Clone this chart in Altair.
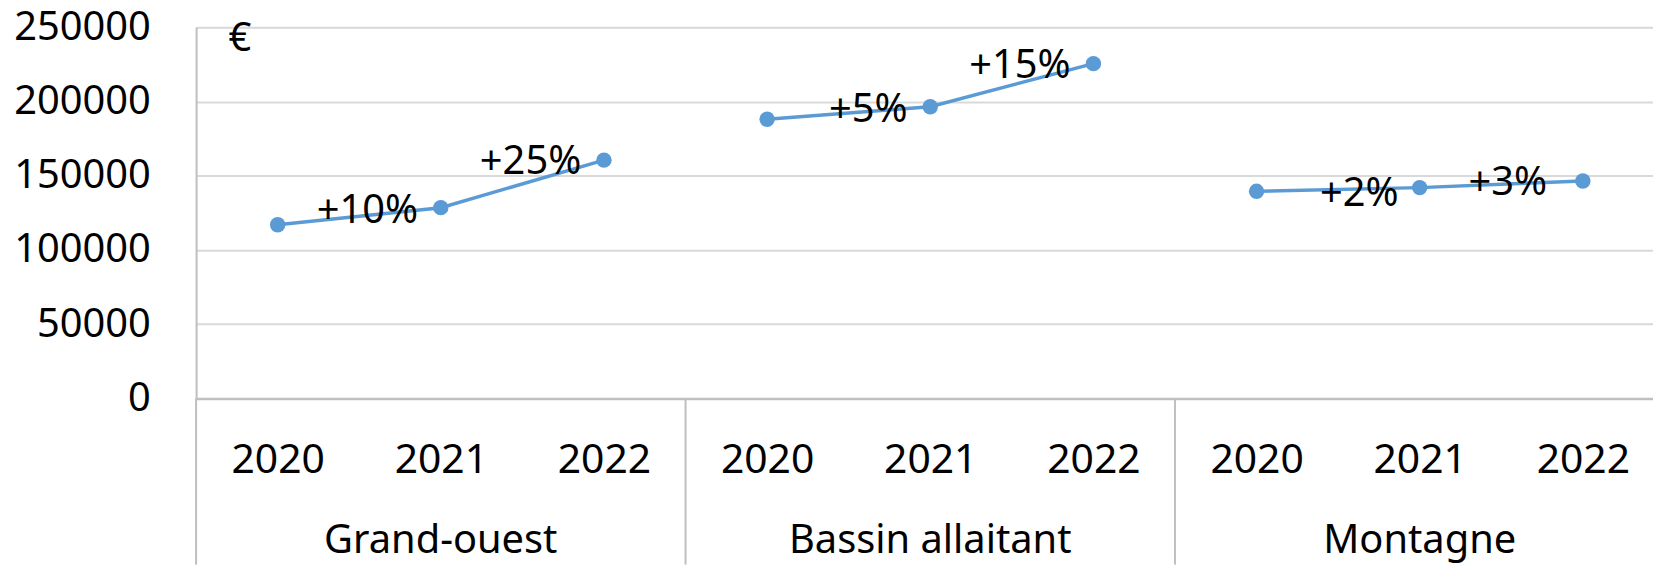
import altair as alt
import pandas as pd

groups = ["Grand-ouest", "Bassin allaitant", "Montagne"]
years = ["2020", "2021", "2022"]
grand_ouest = [117000, 128500, 160500]
bassin_allaitant = [188000, 196500, 225500]
montagne = [139500, 142000, 146500]

pct_labels = ["+10%", "+25%", "+5%", "+15%", "+2%", "+3%"]
pct_x = [0.55, 1.55, 3.62, 4.55, 6.63, 7.54]
pct_y = [126000, 159000, 194000, 224000, 138000, 145000]

y_ticks = [0, 50000, 100000, 150000, 200000, 250000]

FONT = "Noto Sans"
BLUE = "#5B9BD5"
TOP = 18
W, H = 1464, 373
BOTTOM = 167

rows = []
for gi, (g, vals) in enumerate(zip(groups, [grand_ouest, bassin_allaitant, montagne])):
    for yi, (yr, v) in enumerate(zip(years, vals)):
        rows.append({"group": g, "year": yr, "idx": gi * 3 + yi, "value": v})
df = pd.DataFrame(rows)

lab_df = pd.DataFrame({"label": pct_labels, "x": pct_x, "y": pct_y})
grp_df = pd.DataFrame({"group": groups, "x": [i * 3 + 1 for i in range(len(groups))]})
div_df = pd.DataFrame({"x": [i * 3 - 0.5 for i in range(len(groups))]})

year_expr = "[" + ",".join(f"'{y}'" for y in years) + "][datum.value % 3]"

x_scale = alt.Scale(domain=[-0.5, 8.43], nice=False, zero=False)
y_scale = alt.Scale(domain=[0, 250000], nice=False)

x_enc = alt.X(
    "idx:Q", scale=x_scale, title=None,
    axis=alt.Axis(values=list(range(9)), labelExpr=year_expr, grid=False, ticks=False,
                  labelPadding=62, labelFontSize=41, labelFont=FONT, labelColor="black",
                  domainColor="#BFBFBF", domainWidth=2.5, labelBaseline="middle",
                  labelFlush=False, labelOverlap=False),
)
y_enc = alt.Y(
    "value:Q", scale=y_scale, title=None,
    axis=alt.Axis(values=y_ticks, format="d", grid=True, gridColor="#D9D9D9", gridWidth=2,
                  ticks=False, labelPadding=46, labelFontSize=40, labelFont=FONT,
                  labelColor="black", domainColor="#BFBFBF", domainWidth=2,
                  labelBaseline="middle"),
)

base = alt.Chart(df)
lines = base.mark_line(color=BLUE, strokeWidth=3.5).encode(x=x_enc, y=y_enc, detail="group:N")
points = base.mark_circle(color=BLUE, size=240, opacity=1).encode(x="idx:Q", y="value:Q")

labels = alt.Chart(lab_df).mark_text(fontSize=40, font=FONT, color="black",
                                      baseline="middle", align="center").encode(
    x="x:Q", y="y:Q", text="label:N")

grp_text = alt.Chart(grp_df).mark_text(fontSize=40, font=FONT, color="black",
                                        baseline="middle", align="center").encode(
    x="x:Q", y=alt.value(H + 143), text="group:N")

dividers = alt.Chart(div_df).mark_rule(color="#BFBFBF", strokeWidth=2).encode(
    x="x:Q", y=alt.value(H), y2=alt.value(H + BOTTOM))

euro = alt.Chart(pd.DataFrame({"t": ["€"]})).mark_text(
    fontSize=40, font=FONT, color="black", baseline="middle", align="center").encode(
    x=alt.value(44), y=alt.value(12), text="t:N")

chart = alt.layer(lines, points, labels, grp_text, dividers, euro).properties(
    width=W, height=H,
    padding={"left": 189, "top": TOP, "right": 0, "bottom": BOTTOM},
    autosize=alt.AutoSizeParams(type="none"),
).configure_view(stroke=None).configure(background="white")

chart.save("out.html", embed_options={"renderer": "svg", "actions": False})
